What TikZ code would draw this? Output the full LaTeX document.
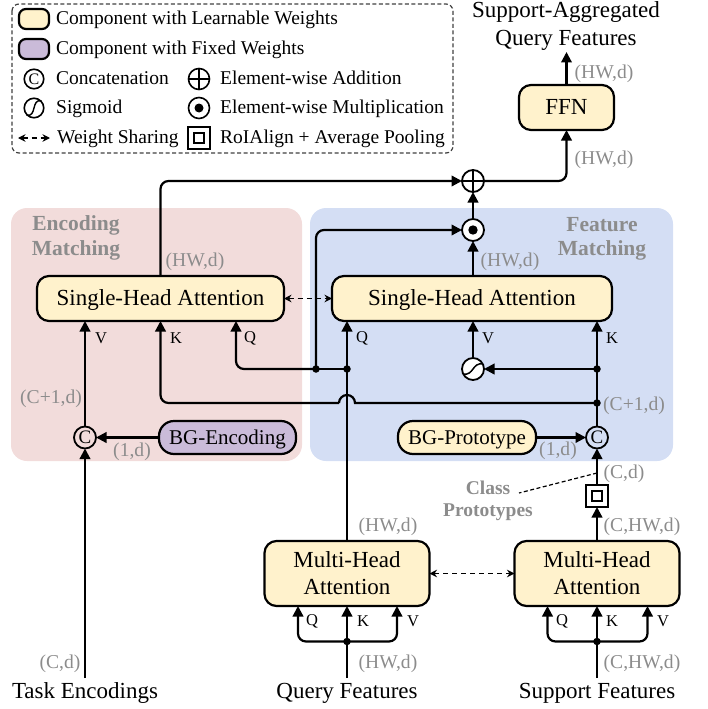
\documentclass[tikz,border=0pt]{standalone}
\usepackage{fontspec}
\setmainfont{Liberation Serif}
\usetikzlibrary{arrows.meta,calc}
\definecolor{learn}{HTML}{FFF2CC}
\definecolor{fixedw}{HTML}{CABBD9}
\definecolor{pinkreg}{HTML}{F2DCDB}
\definecolor{bluereg}{HTML}{D4DEF4}
\definecolor{graytxt}{HTML}{8C8C8C}
\newcommand{\fsz}[1]{\fontsize{#1}{#1}\selectfont}
\tikzset{
  x=1pt,y=-1pt,
  conn/.style={line width=2.2pt,draw=black},
  arr/.style={conn,-{Triangle[length=10.5pt,width=10.5pt]}},
  share/.style={line width=1.5pt,dash pattern=on 5pt off 4pt,{Stealth[length=7.5pt,width=7.5pt]}-{Stealth[length=7.5pt,width=7.5pt]}},
  bigbox/.style={draw=black,line width=2.2pt,fill=learn,rounded corners=12pt,inner sep=0pt,outer sep=0pt,font=\fsz{23},align=center},
  oneline/.style={text height=15.5pt,text depth=1pt},
  pillbox/.style={draw=black,line width=2.2pt,rounded corners=15pt,inner sep=0pt,outer sep=0pt,font=\fsz{21},minimum height=33pt,text height=14pt,text depth=1pt},
  region/.style={rounded corners=16pt,draw=none},
  opc/.style={circle,draw=black,line width=1.8pt,fill=white,minimum size=22pt,inner sep=0pt,outer sep=0pt},
  concatc/.style={opc,font=\fsz{19},fill=none},
  dotj/.style={circle,fill=black,minimum size=7.5pt,inner sep=0pt,outer sep=0pt},
  dims/.style={text=graytxt,font=\fsz{19.6},inner sep=0pt,yshift=-2pt},
  port/.style={font=\fsz{16.5},inner sep=0pt,yshift=-1pt},
  bigtxt/.style={font=\fsz{23},inner sep=0pt,yshift=-2pt},
  legtxt/.style={font=\fsz{19.5},inner sep=0pt,anchor=west,text height=14pt,text depth=3pt},
  boldlab/.style={text=graytxt,font=\fsz{19.5}\bfseries,inner sep=0pt,yshift=-1pt},
  boldreg/.style={boldlab,font=\fsz{21.5}\bfseries},
  legswatch/.style={draw=black,line width=2.2pt,rounded corners=7pt,minimum width=30pt,minimum height=20pt,inner sep=0pt},
  roi/.style={draw=black,line width=2pt,fill=white,minimum size=22pt,inner sep=0pt,outer sep=0pt},
  roiin/.style={draw=black,line width=1.6pt,minimum size=10pt,inner sep=0pt,outer sep=0pt},
}
\begin{document}
\begin{tikzpicture}
\useasboundingbox (0,0) rectangle (707,709);
% regions
\fill[pinkreg,region] (11,208) rectangle (302,461);
\fill[bluereg,region] (310,208) rectangle (673,461);
\node[boldreg] (encA) at (76,224) {Encoding};
\node[boldreg] (encB) at (76,249) {Matching};
\node[boldreg] (feaA) at (602,224) {Feature};
\node[boldreg] (feaB) at (602,249) {Matching};
% legend
\draw[line width=1.2pt,dash pattern=on 4pt off 2.5pt,draw=black!75,rounded corners=7pt] (12,4) rectangle (453,153);
\node[legswatch,fill=learn] (lgA) at (34,19) {};
\node[legswatch,fill=fixedw] (lgB) at (34,49) {};
\node[legtxt] (ltA) at (56,19) {Component with Learnable Weights};
\node[legtxt] (ltB) at (56,49) {Component with Fixed Weights};
\node[opc,minimum size=19.5pt,font=\fsz{16},fill=none,line width=1.6pt] (lgC) at (34,79) {C};
\node[legtxt] (ltC) at (56,79) {Concatenation};
\node[opc,minimum size=19.5pt,fill=none,line width=1.6pt] (lgS) at (34,108) {};
\draw[line width=1.4pt] (26.5,115) .. controls (37,118) and (31,98) .. (41.5,101);
\node[legtxt] (ltS) at (56,108) {Sigmoid};
\coordinate (lgDa) at (18,138);
\coordinate (lgDb) at (50,138);
\draw[share] (lgDa) -- (lgDb);
\node[legtxt] (ltD) at (57,138) {Weight Sharing};
\node[opc,minimum size=21pt,fill=none,line width=1.6pt] (lgP) at (199,79) {};
\draw[line width=1.6pt] (lgP.north) -- (lgP.south) (lgP.west) -- (lgP.east);
\node[legtxt] (ltP) at (220,79) {Element-wise Addition};
\node[opc,minimum size=21pt,fill=none,line width=1.6pt] (lgM) at (199,108) {};
\fill (lgM.center) circle (4.5);
\node[legtxt] (ltM) at (220,108) {Element-wise Multiplication};
\node[roi,fill=none] (lgR) at (199,138) {};
\node[roiin] (lgRi) at (199,138) {};
\node[legtxt] (ltR) at (220,138) {RoIAlign + Average Pooling};
% top output
\node[bigtxt] (outA) at (566,10) {Support-Aggregated};
\node[bigtxt] (outB) at (566,38) {Query Features};
\node[bigbox,oneline,minimum width=95pt,minimum height=45pt] (ffn) at (566.5,107.5) {FFN};
% attention blocks
\node[bigbox,oneline,minimum width=247pt,minimum height=45pt] (shaL) at (160.5,298.5) {Single-Head Attention};
\node[bigbox,oneline,minimum width=280pt,minimum height=45pt] (shaR) at (472,298.5) {Single-Head Attention};
\node[bigbox,minimum width=165pt,minimum height=65pt] (mhL) at (347,573.5) {Multi-Head\\[4pt]Attention};
\node[bigbox,minimum width=165pt,minimum height=65pt] (mhR) at (597,573.5) {Multi-Head\\[4pt]Attention};
\node[pillbox,fill=fixedw,minimum width=137pt] (bgE) at (227.5,437.5) {BG-Encoding};
\node[pillbox,fill=learn,minimum width=138pt] (bgP) at (467,437.5) {BG-Prototype};
% operators
\node[opc] (plus) at (473,181) {};
\draw[line width=1.8pt] (plus.north) -- (plus.south) (plus.west) -- (plus.east);
\node[opc] (mult) at (473,230) {};
\fill (mult.center) circle (4.7);
\node[opc] (sigm) at (473,369) {};
\draw[line width=1.5pt] ($(sigm.center)+(-10,5)$) .. controls (474,376) and (472,362) .. ($(sigm.center)+(10,-5)$);
\node[concatc] (catR) at (597,437.5) {C};
\node[concatc] (catL) at (85,437.5) {C};
\node[roi] (roiB) at (597,496) {};
\node[roiin] (roiI) at (597,496) {};
% junctions and free ends
\coordinate (jqM) at (347,369);
\coordinate (jqS) at (316,369);
\coordinate (jsR) at (597,369);
\coordinate (jkR) at (597,403);
\coordinate (qLup) at (236,321);
\coordinate (kLup) at (160.5,321);
\coordinate (bumpR) at (355,403);
\coordinate (bumpL) at (339,403);
\coordinate (taskBot) at (85,678);
\coordinate (qBot) at (347,678);
\coordinate (sBot) at (597,678);
\coordinate (jqB) at (347,641.5);
\coordinate (jsB) at (597,641.5);
\coordinate (cpA) at (597,473);
\coordinate (cpB) at (519,493);
\coordinate (outTip) at (566.5,52);
\coordinate (qa) at (298,606);
\coordinate (qb) at (397,606);
\coordinate (sa) at (547.5,606);
\coordinate (sb) at (647.5,606);
% connectors
\draw[arr] (ffn.north) -- (outTip);
\draw[arr,rounded corners=8pt] (plus.east) -| (ffn.south);
\draw[arr,rounded corners=8pt] (shaL.north) |- (plus.west);
\draw[arr] (mult.north) -- (plus.south);
\draw[arr] (shaR.north -| mult) -- (mult.south);
\draw[arr,rounded corners=8pt] (jqS) |- (mult.west);
\draw[arr] (mhL.north) -- (shaR.south -| mhL.north);
\draw[conn] (jqM) -- (jqS);
\draw[arr,rounded corners=8pt] (jqS) -| (qLup);
\draw[arr] (sigm.north) -- (shaR.south -| sigm.north);
\draw[arr] (jsR) -- (sigm.east);
\draw[arr] (catR.north) -- (shaR.south -| catR.north);
\draw[conn] (jkR) -- (bumpR) arc[start angle=0,end angle=180,radius=8pt];
\draw[arr,rounded corners=8pt] (bumpL) -| (kLup);
\draw[arr] (bgP.east) -- (catR.west);
\draw[arr] (roiB.north) -- (catR.south);
\draw[arr] (mhR.north) -- (roiB.south);
\draw[arr] (bgE.west) -- (catL.east);
\draw[arr] (catL.north) -- (shaL.south -| catL.north);
\draw[arr] (taskBot) -- (catL.south);
\draw[share] (shaL.east) -- (shaR.west);
\draw[share] (mhL.east) -- (mhR.west);
\draw[line width=1.2pt,dash pattern=on 4pt off 2.5pt] (cpA) -- (cpB);
% bottom inputs
\draw[arr] (qBot) -- (mhL.south);
\draw[arr] (sBot) -- (mhR.south);
\draw[arr,rounded corners=8pt] (jqB) -| (qa);
\draw[arr,rounded corners=8pt] (jqB) -| (qb);
\draw[arr,rounded corners=8pt] (jsB) -| (sa);
\draw[arr,rounded corners=8pt] (jsB) -| (sb);
% junction dots
\node[dotj] (d1) at (jqM) {};
\node[dotj] (d2) at (jqS) {};
\node[dotj] (d3) at (jsR) {};
\node[dotj] (d4) at (jkR) {};
\node[dotj] (d5) at (jqB) {};
\node[dotj] (d6) at (jsB) {};
% port labels
\node[port] (p1) at (101,337) {V};
\node[port] (p2) at (176,337) {K};
\node[port] (p3) at (250,337) {Q};
\node[port] (p4) at (362,337) {Q};
\node[port] (p5) at (488,337) {V};
\node[port] (p6) at (612,337) {K};
\node[port] (p7) at (312,620) {Q};
\node[port] (p8) at (363,620) {K};
\node[port] (p9) at (413,620) {V};
\node[port] (p10) at (562,620) {Q};
\node[port] (p11) at (612,620) {K};
\node[port] (p12) at (663,620) {V};
% dimensions
\node[dims] (t1) at (604,72) {(HW,d)};
\node[dims] (t2) at (604,158) {(HW,d)};
\node[dims] (t3) at (195,260) {(HW,d)};
\node[dims] (t4) at (510,260) {(HW,d)};
\node[dims] (t5) at (51,397) {(C+1,d)};
\node[dims] (t6) at (634,404) {(C+1,d)};
\node[dims] (t7) at (132,450) {(1,d)};
\node[dims] (t8) at (558,449) {(1,d)};
\node[dims] (t9) at (624,472) {(C,d)};
\node[dims] (t10) at (642,525) {(C,HW,d)};
\node[dims] (t11) at (388,525) {(HW,d)};
\node[dims] (t12) at (60,662) {(C,d)};
\node[dims] (t13) at (388,662) {(HW,d)};
\node[dims] (t14) at (642,662) {(C,HW,d)};
\node[boldlab] (cpT) at (488,487) {Class};
\node[boldlab] (cpU) at (488,511) {Prototypes};
% bottom titles
\node[bigtxt] (inT) at (85,691) {Task Encodings};
\node[bigtxt] (inQ) at (347,691) {Query Features};
\node[bigtxt] (inS) at (597,691) {Support Features};
\end{tikzpicture}
\end{document}
